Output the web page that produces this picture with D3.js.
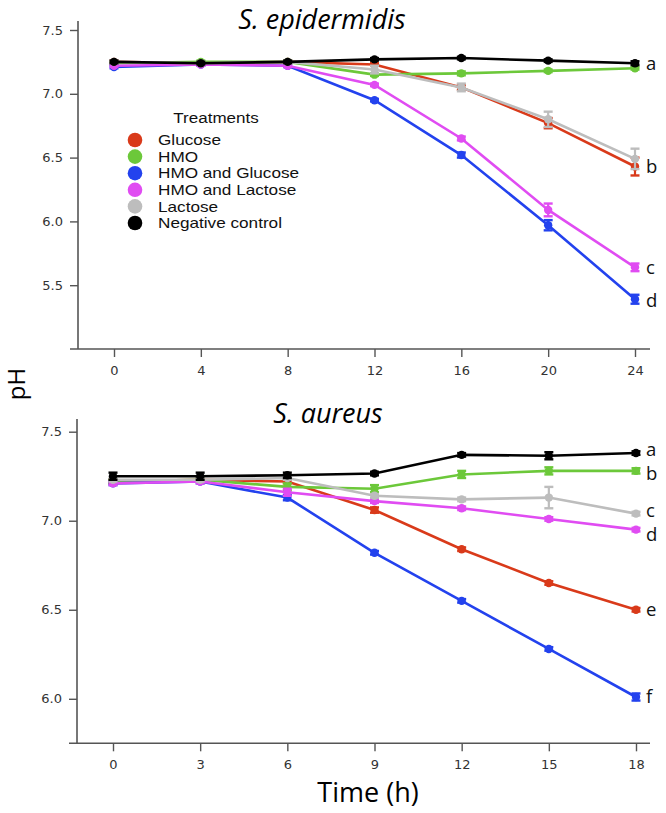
<!DOCTYPE html>
<html><head><meta charset="utf-8">
<script src="https://cdn.jsdelivr.net/npm/d3@7"></script>
<style>body{margin:0;background:#fff}svg{display:block}</style>
</head><body>
<svg id="c" width="666" height="813"></svg>
<script>
const treatments = ["Glucose","HMO","HMO and Glucose","HMO and Lactose","Lactose","Negative control"];
const colors = ["#d93a1a","#6cc83a","#2342ee","#e04cf2","#bdbdbd","#000000"];

const epiTimes = [0,4,8,12,16,20,24];
const epiGlucose = [7.25,7.24,7.25,7.23,7.05,6.77,6.43];
const epiHMO = [7.24,7.25,7.25,7.15,7.16,7.18,7.20];
const epiHMOGlucose = [7.21,7.23,7.22,6.95,6.52,5.97,5.39];
const epiHMOLactose = [7.22,7.23,7.22,7.07,6.65,6.09,5.64];
const epiLactose = [7.25,7.24,7.25,7.19,7.05,6.80,6.49];
const epiNeg = [7.25,7.24,7.25,7.27,7.28,7.26,7.24];
const epiErrGlucose = [0.01,0.01,0.01,0.01,0.02,0.04,0.07];
const epiErrHMO = [0.01,0.01,0.01,0.01,0.015,0.01,0.01];
const epiErrHMOGlucose = [0.01,0.01,0.01,0.01,0.02,0.04,0.035];
const epiErrHMOLactose = [0.01,0.01,0.01,0.01,0.015,0.05,0.03];
const epiErrLactose = [0.01,0.01,0.01,0.03,0.03,0.06,0.08];
const epiErrNeg = [0.01,0.01,0.01,0.01,0.01,0.01,0.015];
const epiLetters = ["a","b","c","d"];
const epiLetterY = [7.24,6.43,5.64,5.38];

const aurTimes = [0,3,6,9,12,15,18];
const aurGlucose = [7.22,7.23,7.22,7.06,6.84,6.65,6.50];
const aurHMO = [7.22,7.23,7.19,7.18,7.26,7.28,7.28];
const aurHMOGlucose = [7.21,7.22,7.13,6.82,6.55,6.28,6.01];
const aurHMOLactose = [7.21,7.22,7.16,7.11,7.07,7.01,6.95];
const aurLactose = [7.23,7.23,7.24,7.14,7.12,7.13,7.04];
const aurNeg = [7.25,7.25,7.255,7.265,7.37,7.365,7.38];
const aurErrGlucose = [0.01,0.01,0.01,0.015,0.01,0.01,0.01];
const aurErrHMO = [0.01,0.01,0.02,0.02,0.02,0.02,0.015];
const aurErrHMOGlucose = [0.01,0.01,0.015,0.01,0.01,0.01,0.02];
const aurErrHMOLactose = [0.01,0.01,0.02,0.01,0.01,0.01,0.01];
const aurErrLactose = [0.01,0.01,0.01,0.01,0.01,0.06,0.01];
const aurErrNeg = [0.02,0.02,0.015,0.01,0.01,0.02,0.01];
const aurLetters = ["a","b","c","d","e","f"];
const aurLetterY = [7.40,7.265,7.06,6.925,6.50,6.01];

const epiTicksY = [5.5,6.0,6.5,7.0,7.5];
const aurTicksY = [6.0,6.5,7.0,7.5];

const svg = d3.select("#c");
const sansFont = "'Open Sans', Lato, sans-serif";
const legFont = "'Liberation Sans', Arial, sans-serif";

function panel(o){
  const g = svg.append("g");
  const x = d3.scaleLinear().domain(o.xdom).range([o.x0,o.x1]);
  const y = d3.scaleLinear().domain(o.ydom).range([o.yb,o.yt]);
  g.append("line").attr("x1",o.axX).attr("x2",o.axX).attr("y1",o.frameTop).attr("y2",o.yb)
    .attr("stroke","#555").attr("stroke-width",1.6);
  g.append("line").attr("x1",o.axX-8).attr("x2",650).attr("y1",o.yb).attr("y2",o.yb)
    .attr("stroke","#555").attr("stroke-width",1.6);
  const xa = g.append("g").attr("transform",`translate(0,${o.yb})`)
    .call(d3.axisBottom(x).tickValues(o.times).tickSize(8).tickPadding(7).tickFormat(d3.format("d")));
  const ya = g.append("g").attr("transform",`translate(${o.axX},0)`)
    .call(d3.axisLeft(y).tickValues(o.yticks).tickSize(8).tickPadding(7).tickFormat(d3.format(".1f")));
  [xa,ya].forEach(a=>{
    a.select(".domain").remove();
    a.selectAll(".tick line").attr("stroke","#555").attr("stroke-width",1.4);
    a.selectAll(".tick text").attr("fill","#333").attr("font-family","DejaVu Sans").attr("font-size",13);
  });
  xa.selectAll(".tick text").attr("dy","0.85em");
  const line = d3.line().x((d,i)=>x(o.times[i])).y(d=>y(d));
  o.series.forEach((s,k)=>{
    const c = colors[k];
    const sg = g.append("g");
    sg.append("path").attr("d",line(s)).attr("fill","none").attr("stroke",c).attr("stroke-width",2.6);
    s.forEach((v,i)=>{
      const e = o.errs[k][i], xx = x(o.times[i]);
      sg.append("line").attr("x1",xx).attr("x2",xx).attr("y1",y(v-e)).attr("y2",y(v+e)).attr("stroke",c).attr("stroke-width",2.2);
      [v-e,v+e].forEach(w=>sg.append("line").attr("x1",xx-4.5).attr("x2",xx+4.5).attr("y1",y(w)).attr("y2",y(w)).attr("stroke",c).attr("stroke-width",2.4));
      sg.append("circle").attr("cx",xx).attr("cy",y(v)).attr("r",4.2).attr("fill",c);
    });
  });
  o.letters.forEach((t,i)=>{
    g.append("text").attr("x",646).attr("y",y(o.letterY[i])).attr("dy","0.35em")
      .attr("font-family",sansFont).attr("font-size",18.5).attr("fill","#111").text(t);
  });
  g.append("text").attr("x",o.titleX).attr("y",o.titleY).attr("text-anchor","middle")
    .attr("font-family",sansFont).attr("font-style","italic").attr("font-size",27).attr("fill","#000")
    .text(o.title);
  return {x,y};
}

panel({xdom:[0,24],x0:114,x1:635,ydom:[5.0,7.5],yb:349,yt:30,axX:78,frameTop:21,
  times:epiTimes,yticks:epiTicksY,
  series:[epiGlucose,epiHMO,epiHMOGlucose,epiHMOLactose,epiLactose,epiNeg],
  errs:[epiErrGlucose,epiErrHMO,epiErrHMOGlucose,epiErrHMOLactose,epiErrLactose,epiErrNeg],
  letters:epiLetters,letterY:epiLetterY,title:"S. epidermidis",titleX:322,titleY:29});

panel({xdom:[0,18],x0:113,x1:636,ydom:[5.75,7.5],yb:743.3,yt:431.7,axX:77,frameTop:419,
  times:aurTimes,yticks:aurTicksY,
  series:[aurGlucose,aurHMO,aurHMOGlucose,aurHMOLactose,aurLactose,aurNeg],
  errs:[aurErrGlucose,aurErrHMO,aurErrHMOGlucose,aurErrHMOLactose,aurErrLactose,aurErrNeg],
  letters:aurLetters,letterY:aurLetterY,title:"S. aureus",titleX:328,titleY:423});

// legend
const lg = svg.append("g");
lg.append("text").attr("transform","translate(216,118) scale(1.15,1)").attr("dy","0.35em").attr("text-anchor","middle")
  .attr("font-family",legFont).attr("font-size",14.8).attr("fill","#111").text("Treatments");
treatments.forEach((t,i)=>{
  const yy = 140 + i*16.6;
  lg.append("circle").attr("cx",135).attr("cy",yy).attr("r",7.3).attr("fill",colors[i]);
  lg.append("text").attr("transform",`translate(158,${yy}) scale(1.16,1)`).attr("dy","0.35em")
    .attr("font-family",legFont).attr("font-size",14.8).attr("fill","#111").text(t);
});

// axis titles
svg.append("text").attr("transform","translate(25,384) rotate(-90)").attr("text-anchor","middle")
  .attr("font-family",sansFont).attr("font-size",24).attr("fill","#000").text("pH");
svg.append("text").attr("x",368).attr("y",802).attr("text-anchor","middle")
  .attr("font-family",sansFont).attr("font-size",27).attr("fill","#000").text("Time (h)");
</script>
</body></html>
